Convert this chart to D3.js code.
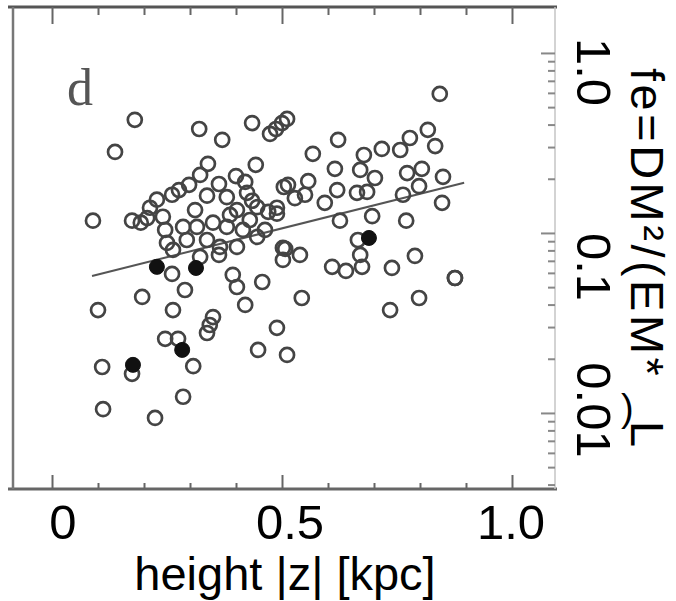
<!DOCTYPE html>
<html><head><meta charset="utf-8">
<script src="https://cdn.jsdelivr.net/npm/d3@7"></script>
<style>body{margin:0;background:#fff} svg{display:block}</style>
</head><body>
<script>
// ---- data ----
const openX = [0.180,0.137,0.320,0.370,0.435,0.474,0.487,0.500,0.511,0.339,0.443,0.843,0.622,0.567,0.678,0.717,0.757,0.778,0.817,0.833,
  0.089,0.174,0.193,0.228,0.261,0.276,0.298,0.337,0.363,0.400,0.380,0.424,0.435,0.402,0.446,0.470,0.489,0.504,0.207,0.241,
  0.285,0.315,0.350,0.380,0.415,0.446,0.250,0.293,0.337,0.365,0.402,0.263,0.322,0.502,0.502,0.363,0.261,0.513,0.557,0.528,
  0.550,0.593,0.615,0.670,0.702,0.620,0.663,0.685,0.489,0.626,0.696,0.770,0.772,0.804,0.798,0.763,0.850,0.848,0.665,0.507,
  0.539,0.609,0.639,0.674,0.670,0.739,0.789,0.876,0.876,0.543,0.798,0.735,0.489,0.511,0.448,0.457,0.393,0.402,0.420,0.350,
  0.343,0.337,0.289,0.196,0.100,0.263,0.246,0.274,0.307,0.109,0.174,0.285,0.111,0.224,
  0.213,0.246,0.311,0.387,0.430,0.463,0.322,0.420];
const openY = [0.425,0.282,0.378,0.329,0.408,0.355,0.378,0.408,0.430,0.242,0.239,0.592,0.329,0.275,0.271,0.293,0.289,0.337,0.374,0.304,
  0.117,0.117,0.114,0.153,0.163,0.173,0.185,0.161,0.187,0.207,0.158,0.167,0.151,0.134,0.139,0.131,0.138,0.180,0.121,0.123,
  0.108,0.108,0.114,0.108,0.104,0.0950,0.0880,0.0914,0.0914,0.0836,0.0836,0.0805,0.0736,0.0826,0.0708,0.0755,0.0592,0.185,0.194,0.156,
  0.163,0.147,0.227,0.224,0.202,0.173,0.167,0.169,0.128,0.117,0.124,0.117,0.215,0.227,0.182,0.163,0.205,0.147,0.0914,0.0815,
  0.0755,0.0648,0.0615,0.0648,0.0755,0.0639,0.0745,0.0562,0.0562,0.0435,0.0435,0.0373,0.0297,0.0210,0.0224,0.0534,0.0585,0.0501,0.0398,0.0341,
  0.0308,0.0278,0.0482,0.0441,0.0373,0.0373,0.0258,0.0258,0.0182,0.0180,0.0165,0.0123,0.0105,0.00938,
  0.138,0.104,0.134,0.126,0.118,0.104,0.210,0.192];
const filledX = [0.228,0.313,0.283,0.176,0.689];
const filledY = [0.0648,0.0639,0.0224,0.0185,0.0938];
const fitX = [0.087,0.896];
const fitY = [0.0577,0.19];
const xTickValues = [0,0.5,1.0];
const xTickLabels = ["0","0.5","1.0"];
const xMinorTicks = [0.1,0.2,0.3,0.4,0.6,0.7,0.8,0.9];
const yTickValues = [1.0,0.1,0.01];
const yTickLabels = ["1.0","0.1","0.01"];
const yMinorTicks = [0.004,0.005,0.006,0.007,0.008,0.009,0.02,0.03,0.04,0.05,0.06,0.07,0.08,0.09,0.2,0.3,0.4,0.5,0.6,0.7,0.8,0.9];
const panelLabel = "d";
const xTitle = "height |z| [kpc]";
const yTitleHead = "fe=DM²/(EM*";
const yTitleL = "L";
const yTitleTail = ")";

// ---- layout ----
const W = 676, H = 601;
const L = 13, R = 555, T = 7, B = 489;
const svg = d3.select("body").append("svg").attr("width", W).attr("height", H);
const x = d3.scaleLinear().domain([-0.0848, 1.0935]).range([L, R]);
const y = d3.scaleLog().domain([0.00378, 1.80]).range([B, T]);
const font = "'Liberation Sans', Arial, sans-serif";

// frame
svg.append("line").attr("x1", 8).attr("x2", 557).attr("y1", T).attr("y2", T).attr("stroke", "#555").attr("stroke-width", 3);
svg.append("line").attr("x1", 8).attr("x2", 557).attr("y1", B).attr("y2", B).attr("stroke", "#666").attr("stroke-width", 3);
svg.append("line").attr("x1", L).attr("x2", L).attr("y1", T).attr("y2", B).attr("stroke", "#777").attr("stroke-width", 2.5);
svg.append("line").attr("x1", R).attr("x2", R).attr("y1", T).attr("y2", B).attr("stroke", "#c4c4c4").attr("stroke-width", 1.5);

function styleAxis(g, color, w) {
  g.select(".domain").remove();
  g.selectAll(".tick line").attr("stroke", color).attr("stroke-width", w);
}
// bottom ticks (inward)
svg.append("g").attr("transform", `translate(0,${B})`)
  .call(d3.axisBottom(x).tickValues(xMinorTicks).tickSize(-6).tickFormat(""))
  .call(g => styleAxis(g, "#666", 2));
svg.append("g").attr("transform", `translate(0,${B})`)
  .call(d3.axisBottom(x).tickValues(xTickValues).tickSize(-14).tickFormat(""))
  .call(g => styleAxis(g, "#666", 2));
// top ticks (inward)
svg.append("g").attr("transform", `translate(0,${T})`)
  .call(d3.axisTop(x).tickValues(xMinorTicks).tickSize(-8).tickFormat(""))
  .call(g => styleAxis(g, "#666", 2));
svg.append("g").attr("transform", `translate(0,${T})`)
  .call(d3.axisTop(x).tickValues(xTickValues).tickSize(-17).tickFormat(""))
  .call(g => styleAxis(g, "#666", 2));
// right ticks (inward)
svg.append("g").attr("transform", `translate(${R},0)`)
  .call(d3.axisRight(y).tickValues(yMinorTicks).tickSize(-7).tickFormat(""))
  .call(g => styleAxis(g, "#888", 2));
svg.append("g").attr("transform", `translate(${R},0)`)
  .call(d3.axisRight(y).tickValues(yTickValues).tickSize(-14).tickFormat(""))
  .call(g => styleAxis(g, "#888", 2));

// x tick labels
const xLabelNudge = [11, 8, -1];
svg.append("g").selectAll("text").data(xTickValues).join("text")
  .attr("x", (d, i) => x(d) + xLabelNudge[i]).attr("y", 539)
  .attr("text-anchor", "middle").attr("font-family", font).attr("font-size", 49).attr("fill", "#000")
  .text((d, i) => xTickLabels[i]);
// y tick labels (rotated clockwise)
const yLabelNudge = [19, 34, -3];
svg.append("g").selectAll("text").data(yTickValues).join("text")
  .attr("transform", (d, i) => `translate(577,${y(d) + yLabelNudge[i]}) rotate(90)`)
  .attr("text-anchor", "middle").attr("font-family", font).attr("font-size", 49).attr("fill", "#000")
  .text((d, i) => yTickLabels[i]);

// titles
svg.append("text").attr("x", 285).attr("y", 590).attr("text-anchor", "middle")
  .attr("font-family", font).attr("font-size", 47).attr("fill", "#000").text(xTitle);
const yt = svg.append("text").attr("transform", "translate(631,0) rotate(90)")
  .attr("font-family", font).attr("font-size", 47).attr("fill", "#000");
yt.append("tspan").attr("x", 68).attr("y", 0).attr("letter-spacing", 3.5).text(yTitleHead);
yt.append("tspan").attr("x", 421).attr("y", 0).text(yTitleL);
svg.append("text").attr("x", 621).attr("y", 421)
  .attr("font-family", font).attr("font-size", 38).attr("fill", "#000").text(yTitleTail);

// panel label
svg.append("text").attr("x", 67).attr("y", 105).attr("font-family", "'Liberation Serif', 'Times New Roman', serif")
  .attr("font-size", 52).attr("fill", "#555").text(panelLabel);

// fit line
const line = d3.line().x(d => x(d[0])).y(d => y(d[1]));
svg.append("path").datum(fitX.map((v, i) => [v, fitY[i]])).attr("d", line)
  .attr("fill", "none").attr("stroke", "#555").attr("stroke-width", 2);

// points
svg.append("g").selectAll("circle").data(openX.map((v, i) => [v, openY[i]])).join("circle")
  .attr("cx", d => x(d[0])).attr("cy", d => y(d[1])).attr("r", 7)
  .attr("fill", "none").attr("stroke", "#444").attr("stroke-width", 2.7);
svg.append("g").selectAll("circle").data(filledX.map((v, i) => [v, filledY[i]])).join("circle")
  .attr("cx", d => x(d[0])).attr("cy", d => y(d[1])).attr("r", 7.5)
  .attr("fill", "#111").attr("stroke", "#111").attr("stroke-width", 1);
</script>
</body></html>
